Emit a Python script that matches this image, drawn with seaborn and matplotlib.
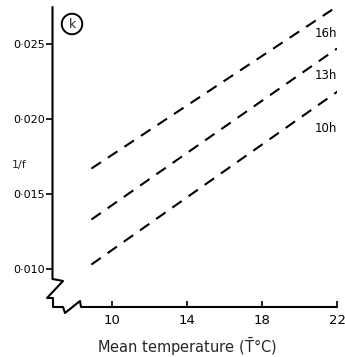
import matplotlib
matplotlib.use("Agg")
import matplotlib.pyplot as plt
import seaborn as sns
import pandas as pd

# ---- data ----
photoperiods = ["10h", "13h", "16h"]
temp_start = [8.9, 8.9, 8.9]
temp_end = [22.1, 22.0, 22.0]
inv_start = [0.0103, 0.0133, 0.0167]
inv_end = [0.0219, 0.0247, 0.0275]
label_x = [21.4, 21.4, 21.4]
label_y = [0.0194, 0.0229, 0.0257]
xticks = [10, 14, 18, 22]
yticks = [0.010, 0.015, 0.020, 0.025]
ytick_labels = ["0·010", "0·015", "0·020", "0·025"]

rows = []
for p, x0, x1, y0, y1 in zip(photoperiods, temp_start, temp_end, inv_start, inv_end):
    rows.append({"T": x0, "inv": y0, "day": p})
    rows.append({"T": x1, "inv": y1, "day": p})
df = pd.DataFrame(rows)

sns.set_style("ticks")
plt.rcParams["font.family"] = ["DejaVu Sans"]

W, H = 345, 357
fig = plt.figure(figsize=(W / 100, H / 100), dpi=100)
# axes: x from px 52 to 337, y from px 7 to 307
ax = fig.add_axes([52 / W, 1 - 307 / H, 285 / W, 300 / H])

sns.lineplot(data=df, x="T", y="inv", hue="day", palette=["black"] * 3,
             legend=False, ax=ax, lw=1.5)
for line in ax.get_lines():
    line.set_dashes((5.5, 4.0))
    line.set_solid_capstyle("butt")

ax.set_xlim(6.8, 22.0)
ax.set_ylim(0.00747, 0.02747)

for p, x, y in zip(photoperiods, label_x, label_y):
    ax.text(x, y, p, ha="center", va="center", fontsize=8.5, color="black")

ax.set_xticks(xticks)
ax.set_xticklabels([str(t) for t in xticks], fontsize=9.5)
ax.set_yticks(yticks)
ax.set_yticklabels(ytick_labels, fontsize=8)
ax.tick_params(axis="x", direction="in", length=4, width=1.2, pad=5, colors="black")
ax.tick_params(axis="y", direction="out", length=4, width=1.2, pad=1, colors="black")

for s in ax.spines.values():
    s.set_visible(False)
ax.set_xlabel("")
ax.set_ylabel("")

# axis lines with break marks (pixel coordinates)
def px(pts):
    return [p[0] / W for p in pts], [1 - p[1] / H for p in pts]

yaxis = [(52.5, 7), (52.5, 279), (63, 281), (47, 298), (53, 298), (53, 307),
         (63, 307), (65, 313), (80, 301), (81, 307), (337, 307)]
xs, ys = px(yaxis)
fig.add_artist(plt.Line2D(xs, ys, color="black", lw=1.5, transform=fig.transFigure))

fig.text(72 / W, 1 - 24 / H, "k", ha="center", va="center", fontsize=9,
         bbox=dict(boxstyle="circle,pad=0.3", fc="none", ec="black", lw=1.4))
fig.text(19 / W, 1 - 165 / H, "1/f", ha="center", va="center", fontsize=8)
fig.text(187 / W, 1 - 347 / H, "Mean temperature ($\\bar{\\mathrm{T}}$°C)",
         ha="center", va="center", fontsize=10.5)

fig.savefig("out.png", dpi=100)
